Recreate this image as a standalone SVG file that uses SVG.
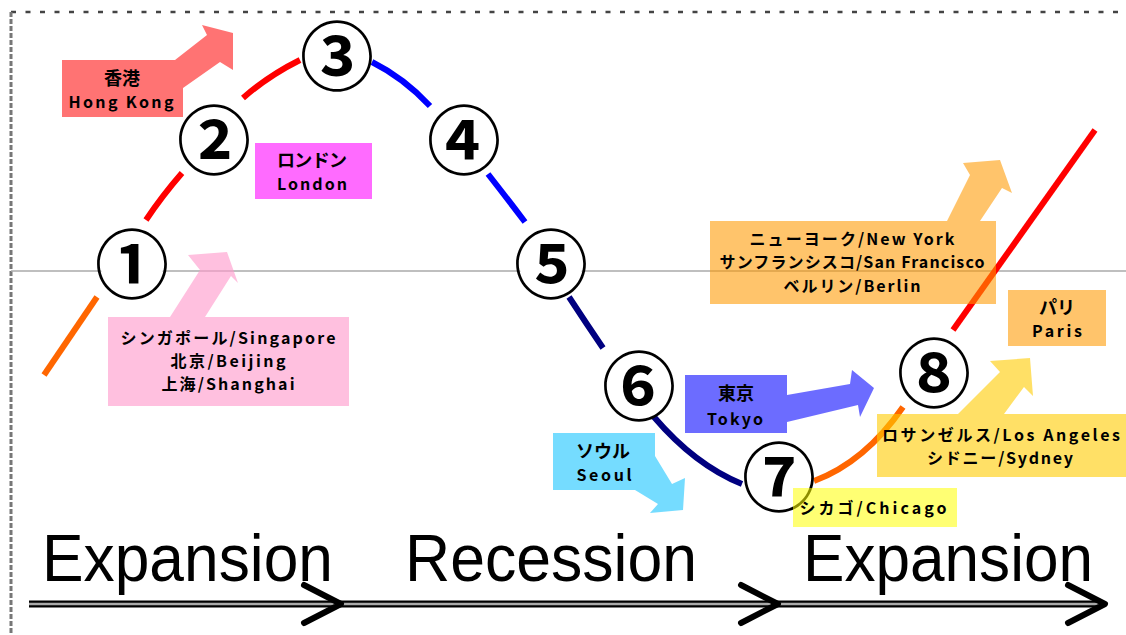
<svg xmlns="http://www.w3.org/2000/svg" width="1126" height="635" viewBox="0 0 1126 635">
<style>
.seg{fill:none;stroke-width:6;stroke-linecap:butt}
.num{font-family:"Noto Sans CJK JP","DejaVu Sans",sans-serif;font-weight:700;font-size:74px;text-anchor:middle;dominant-baseline:central;fill:#000}
.mask{fill:#fff}
.lbl{font-family:"Noto Sans CJK JP","Noto Sans",sans-serif;font-weight:700;font-size:16px;text-anchor:middle;fill:#000}
.cjk{font-size:18px}
.big{font-family:"Liberation Sans",Arial,sans-serif;font-size:67px;fill:#000}
.chev{fill:none;stroke:#000;stroke-width:6;stroke-linecap:round;stroke-linejoin:round}
</style>
<rect width="1126" height="635" fill="#fff"/>
<g id="frame">
<line x1="11" y1="12" x2="1126" y2="12" stroke="#444" stroke-width="2.5" stroke-dasharray="5 9.5"/>
<line x1="11" y1="12" x2="11" y2="635" stroke="#777" stroke-width="3" stroke-dasharray="5 2"/>
<line x1="11" y1="271" x2="1126" y2="271" stroke="#aaa" stroke-width="1.5"/>
</g>
<g id="connectors">
<path class="seg" stroke="#ff6600" stroke-linecap="round" d="M44,375 L97,297"/>
<path class="seg" stroke="#ff0000" d="M146,220 Q162,196 182,173"/>
<path class="seg" stroke="#ff0000" d="M243,98 Q268,76 300,60"/>
<path class="seg" stroke="#0000ff" d="M372,62 Q404,78 430,106"/>
<path class="seg" stroke="#0000ff" d="M488,174 Q506,197 525,222"/>
<path class="seg" stroke="#000080" d="M569,297 Q586,323 603,348"/>
<path class="seg" stroke="#000080" d="M654,417 Q695,465 742,484"/>
<path class="seg" stroke="#ff6600" d="M814,481 Q865,462 903,407"/>
<path class="seg" stroke="#ff0000" stroke-linecap="round" d="M953,330 L1095,130"/>
</g>
<g id="n1"><circle class="mask" cx="132" cy="259" r="33"/><text class="num" x="132" y="259">①</text></g>
<g id="n2"><circle class="mask" cx="214" cy="135" r="33"/><text class="num" x="214" y="135">②</text></g>
<g id="n3"><circle class="mask" cx="337" cy="51" r="33"/><text class="num" x="337" y="51">③</text></g>
<g id="n4"><circle class="mask" cx="464" cy="135" r="33"/><text class="num" x="464" y="135">④</text></g>
<g id="n5"><circle class="mask" cx="551" cy="259" r="33"/><text class="num" x="551" y="259">⑤</text></g>
<g id="n6"><circle class="mask" cx="639" cy="381" r="33"/><text class="num" x="639" y="381">⑥</text></g>
<g id="n7"><circle class="mask" cx="779" cy="472" r="33"/><text class="num" x="779" y="472">⑦</text></g>
<g id="n8"><circle class="mask" cx="934" cy="368" r="33"/><text class="num" x="934" y="368">⑧</text></g>
<g id="hongkong" fill="#ff0000" fill-opacity="0.55">
<path d="M62,60 H175 L207,35 L202,25 L233,33 L233,70 L220,62 L183,88 V117 H62 Z"/>
<text class="lbl cjk" x="122" y="85" fill-opacity="1">香港</text>
<text class="lbl" x="121" y="108" textLength="105" lengthAdjust="spacing" fill-opacity="1">Hong Kong</text>
</g>
<g id="london" fill="#ff00ff" fill-opacity="0.58">
<rect x="255" y="143" width="117" height="56"/>
<text class="lbl cjk" x="312" y="167" textLength="70" lengthAdjust="spacing" fill-opacity="1">ロンドン</text>
<text class="lbl" x="312" y="190" textLength="70" lengthAdjust="spacing" fill-opacity="1">London</text>
</g>
<g id="singapore" fill="#ff99cc" fill-opacity="0.62">
<path d="M108,317 H170 L200,270 L188,255 L227,252 L238,283 L231,276 L205,317 H349 V406 H108 Z"/>
<text class="lbl" x="228" y="344" textLength="215" lengthAdjust="spacing" fill-opacity="1">シンガポール/Singapore</text>
<text class="lbl" x="228" y="367" textLength="115" lengthAdjust="spacing" fill-opacity="1">北京/Beijing</text>
<text class="lbl" x="228" y="390" textLength="133" lengthAdjust="spacing" fill-opacity="1">上海/Shanghai</text>
</g>
<g id="newyork" fill="#ff9900" fill-opacity="0.58">
<path d="M710,221 H947 L970,175 L963,163 L1000,160 L1012,193 L1002,188 L980,221 H996 V304 H710 Z"/>
<text class="lbl" x="852" y="245" textLength="205" lengthAdjust="spacing" fill-opacity="1">ニューヨーク/New York</text>
<text class="lbl" x="852" y="268" textLength="265" lengthAdjust="spacing" fill-opacity="1">サンフランシスコ/San Francisco</text>
<text class="lbl" x="852" y="292" textLength="137" lengthAdjust="spacing" fill-opacity="1">ベルリン/Berlin</text>
</g>
<g id="paris" fill="#ff9900" fill-opacity="0.58">
<rect x="1008" y="290" width="98" height="56"/>
<text class="lbl cjk" x="1057" y="314" fill-opacity="1">パリ</text>
<text class="lbl" x="1057" y="337" textLength="50" lengthAdjust="spacing" fill-opacity="1">Paris</text>
</g>
<g id="losangeles" fill="#ffcc00" fill-opacity="0.6">
<path d="M877,414 H958 L1000,372 L990,361 L1030,358 L1033,396 L1024,387 L1004,414 H1126 V477 H877 Z"/>
<text class="lbl" x="1001" y="441" textLength="238" lengthAdjust="spacing" fill-opacity="1">ロサンゼルス/Los Angeles</text>
<text class="lbl" x="1000" y="464" textLength="146" lengthAdjust="spacing" fill-opacity="1">シドニー/Sydney</text>
</g>
<g id="chicago" fill="#ffff00" fill-opacity="0.55">
<rect x="793" y="488" width="164" height="39"/>
<text class="lbl" x="873" y="514" textLength="147" lengthAdjust="spacing" fill-opacity="1">シカゴ/Chicago</text>
</g>
<g id="tokyo" fill="#3333ff" fill-opacity="0.72">
<path d="M685,375 H787 V395 L850,384 L852,370 L874,388 L860,417 L858,405 L787,422 V433 H685 Z"/>
<text class="lbl cjk" x="736" y="400" fill-opacity="1">東京</text>
<text class="lbl" x="735" y="425" textLength="56" lengthAdjust="spacing" fill-opacity="1">Tokyo</text>
</g>
<g id="seoul" fill="#33ccff" fill-opacity="0.68">
<path d="M553,433 H655 V456 L672,484 L685,478 L683,510 L650,513 L658,504 L635,490 H553 Z"/>
<text class="lbl cjk" x="603" y="458" fill-opacity="1">ソウル</text>
<text class="lbl" x="604" y="481" textLength="55" lengthAdjust="spacing" fill-opacity="1">Seoul</text>
</g>
<g id="timeline">
<line x1="29" y1="604" x2="1103" y2="604" stroke="#000" stroke-width="7"/>
<line x1="29" y1="604" x2="1103" y2="604" stroke="#aaa" stroke-width="2.5"/>
<polyline class="chev" points="304,585 341,604 304,623"/>
<polyline class="chev" points="741,585 778,604 741,623"/>
<polyline class="chev" points="1068,585 1105,604 1068,623"/>
</g>
<g id="phases">
<text class="big" x="42" y="581" textLength="291" lengthAdjust="spacingAndGlyphs">Expansion</text>
<text class="big" x="405" y="581" textLength="292" lengthAdjust="spacingAndGlyphs">Recession</text>
<text class="big" x="803" y="581" textLength="290" lengthAdjust="spacingAndGlyphs">Expansion</text>
</g>
</svg>
